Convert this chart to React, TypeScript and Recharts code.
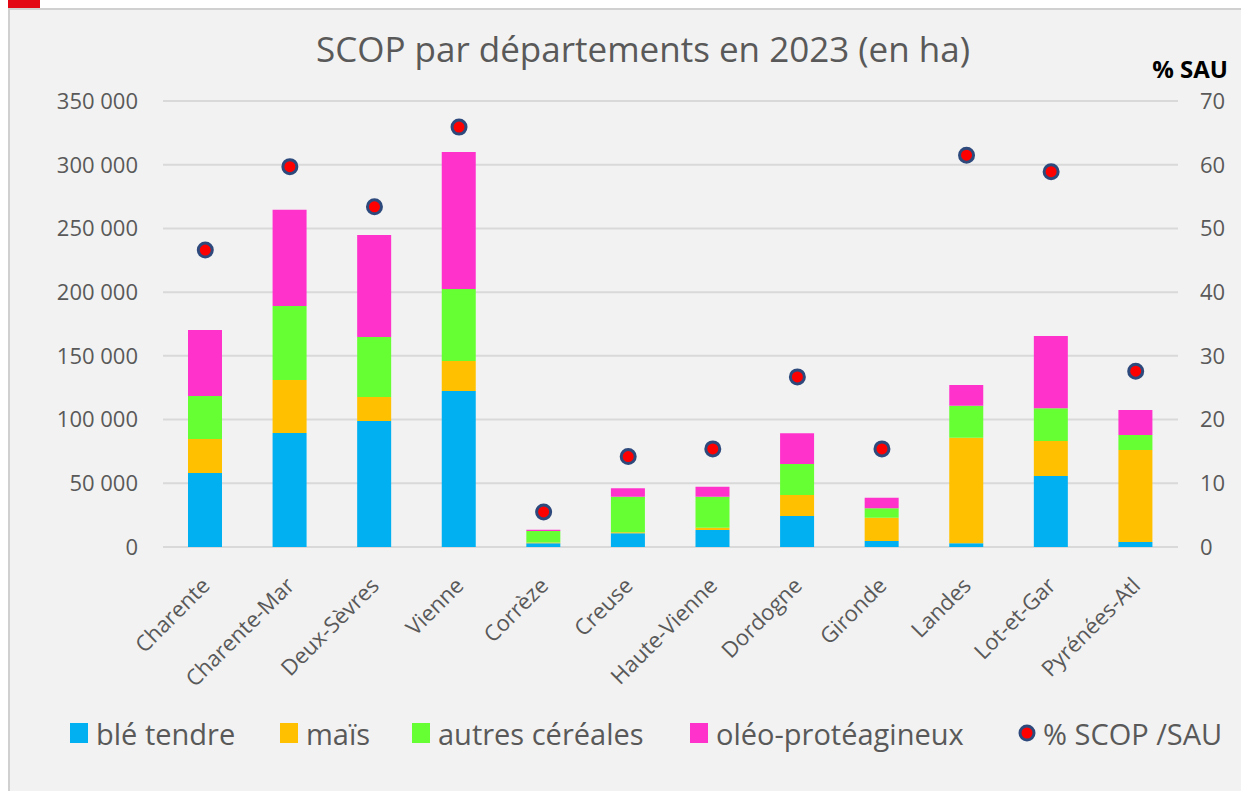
import React from 'react';
import {
  ComposedChart, Bar, Line, XAxis, YAxis, CartesianGrid, Legend,
} from 'recharts';

const categories = [
  'Charente', 'Charente-Mar', 'Deux-Sèvres', 'Vienne', 'Corrèze', 'Creuse',
  'Haute-Vienne', 'Dordogne', 'Gironde', 'Landes', 'Lot-et-Gar', 'Pyrénées-Atl',
];
const bleTendre = [58000, 89500, 98900, 122400, 3000, 10800, 13300, 24300, 4700, 2900, 55700, 3900];
const mais = [26700, 41600, 18800, 23600, 500, 700, 1900, 16500, 18300, 82900, 27500, 72200];
const autresCereales = [33800, 58100, 47100, 56500, 9000, 28000, 24300, 24300, 7400, 25100, 25600, 11800];
const oleoProteagineux = [51800, 75400, 80000, 107500, 1000, 6600, 7800, 24100, 8300, 16200, 56800, 19600];
const pctScopSau = [46.6, 59.7, 53.4, 65.9, 5.5, 14.2, 15.4, 26.7, 15.4, 61.5, 58.9, 27.6];

const leftTicks = [0, 50000, 100000, 150000, 200000, 250000, 300000, 350000];
const rightTicks = [0, 10, 20, 30, 40, 50, 60, 70];

const SERIES = [
  { key: 'ble', name: 'blé tendre', color: '#00b0f0', w: 210 },
  { key: 'mais', name: 'maïs', color: '#ffc000', w: 132 },
  { key: 'autres', name: 'autres céréales', color: '#66ff33', w: 278 },
  { key: 'oleo', name: 'oléo-protéagineux', color: '#ff33cc', w: 325 },
];

const data = categories.map((name, i) => ({
  name,
  ble: bleTendre[i],
  mais: mais[i],
  autres: autresCereales[i],
  oleo: oleoProteagineux[i],
  pct: pctScopSau[i],
}));

const GREY = '#595959';
const DOT_FILL = '#ff0000';
const DOT_STROKE = '#2e4a7d';

const fmtThousands = (v: number) =>
  v === 0 ? '0' : `${Math.floor(v / 1000)} ${String(v % 1000).padStart(3, '0')}`;

function XTick(props: any) {
  const { x, y, payload } = props;
  const ax = x + 6;
  const ay = y + 40;
  return (
    <text
      x={ax}
      y={ay}
      textAnchor="end"
      fill={GREY}
      fontSize={22}
      transform={`rotate(-45, ${ax}, ${ay})`}
    >
      {payload.value}
    </text>
  );
}

function PctDot(props: any) {
  const { cx, cy, index } = props;
  if (cx == null || cy == null) return null;
  return (
    <circle key={`dot-${index}`} cx={cx} cy={cy} r={7} fill={DOT_FILL} stroke={DOT_STROKE} strokeWidth={3} />
  );
}

function LegendContent() {
  return (
    <div style={{ display: 'flex', alignItems: 'center', height: 40, paddingLeft: 62, color: GREY, fontSize: 29 }}>
      {SERIES.map(s => (
        <div key={s.key} style={{ display: 'flex', alignItems: 'center', width: s.w, flex: 'none' }}>
          <span style={{ width: 18, height: 20, background: s.color, marginRight: 8, display: 'inline-block' }} />
          <span>{s.name}</span>
        </div>
      ))}
      <div style={{ display: 'flex', alignItems: 'center' }}>
        <svg width={24} height={20} style={{ marginRight: 4 }}>
          <circle cx={12} cy={10} r={7} fill={DOT_FILL} stroke={DOT_STROKE} strokeWidth={3} />
        </svg>
        <span>% SCOP /SAU</span>
      </div>
    </div>
  );
}

export default function App() {
  return (
    <div style={{
      position: 'relative', width: 1241, height: 783, background: '#f2f2f2',
      fontFamily: '"Open Sans", sans-serif',
    }}>
      {/* red corner mark, top of the page */}
      <div style={{ position: 'fixed', left: 8, top: 0, width: 32, height: 8, background: '#e30613', zIndex: 10 }} />
      <div style={{ position: 'absolute', left: 0, top: 0, width: 2, height: 783, background: '#d0d0d0' }} />
      <div style={{ position: 'absolute', left: 0, top: 0, width: 1241, height: 2, background: '#d0d0d0' }} />

      <div style={{
        position: 'absolute', left: 0, top: 24, width: 1270, textAlign: 'center',
        fontSize: 35, lineHeight: '34px', color: GREY,
      }}>
        SCOP par départements en 2023 (en ha)
      </div>
      <div style={{
        position: 'absolute', left: 1060, top: 49, width: 160, textAlign: 'right',
        fontSize: 24, lineHeight: '24px', fontWeight: 700, color: '#000',
      }}>
        % SAU
      </div>

      <ComposedChart
        width={1241}
        height={783}
        data={data}
        margin={{ top: 93, right: 0, bottom: 24, left: 0 }}
        barCategoryGap={0}
      >
        <CartesianGrid yAxisId="left" vertical={false} stroke="#d9d9d9" strokeWidth={2} />
        <XAxis
          dataKey="name"
          axisLine={false}
          tickLine={false}
          tickSize={0}
          tickMargin={0}
          height={160}
          interval={0}
          tick={<XTick />}
        />
        <YAxis
          yAxisId="left"
          orientation="left"
          width={155}
          domain={[0, 350000]}
          ticks={leftTicks}
          tickFormatter={fmtThousands}
          axisLine={false}
          tickLine={false}
          tickSize={0}
          tickMargin={25}
          tick={{ fill: GREY, fontSize: 22 }}
        />
        <YAxis
          yAxisId="right"
          orientation="right"
          width={71}
          domain={[0, 70]}
          ticks={rightTicks}
          axisLine={false}
          tickLine={false}
          tickSize={0}
          tickMargin={22}
          tick={{ fill: GREY, fontSize: 22, textAnchor: 'start' }}
        />
        <Legend
          verticalAlign="bottom"
          height={60}
          content={<LegendContent />}
          wrapperStyle={{ left: 0, top: 705, width: 1241 }}
        />
        {SERIES.map(s => (
          <Bar
            key={s.key}
            yAxisId="left"
            dataKey={s.key}
            name={s.name}
            stackId="scop"
            fill={s.color}
            barSize={34}
            isAnimationActive={false}
          />
        ))}
        <Line
          yAxisId="right"
          dataKey="pct"
          name="% SCOP /SAU"
          stroke="none"
          dot={<PctDot />}
          activeDot={false}
          isAnimationActive={false}
        />
      </ComposedChart>
    </div>
  );
}
